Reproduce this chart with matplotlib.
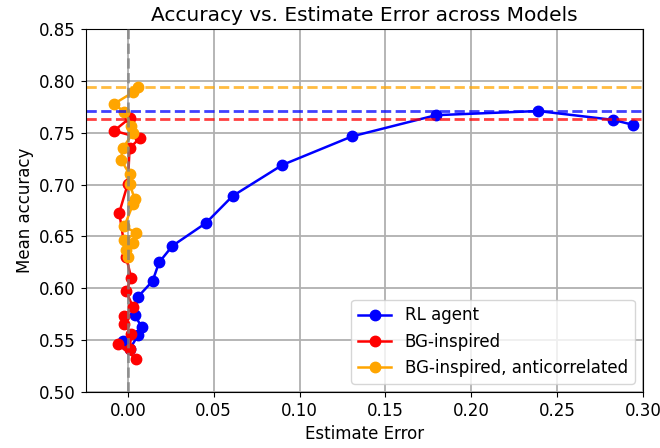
import numpy as np
import matplotlib
matplotlib.use('Agg')
import matplotlib.pyplot as plt

# Dados (erro de estimativa, acurácia média)
rl_err = [-0.003, 0.001, 0.006, 0.008, 0.004, 0.006, 0.0144, 0.0182, 0.026, 0.0455,
          0.061, 0.090, 0.1305, 0.1795, 0.239, 0.2826, 0.2943]
rl_acc = [0.549, 0.541, 0.555, 0.563, 0.574, 0.592, 0.607, 0.625, 0.641, 0.663,
          0.689, 0.719, 0.7465, 0.767, 0.771, 0.7625, 0.7577]

bg_err = [0.005, -0.006, 0.001, 0.002, -0.002, -0.002, 0.003, -0.001, 0.002, -0.001,
          -0.005, 0.0, 0.001, 0.007, -0.008, 0.001]
bg_acc = [0.532, 0.546, 0.541, 0.556, 0.566, 0.573, 0.582, 0.597, 0.610, 0.630,
          0.673, 0.701, 0.735, 0.745, 0.752, 0.764]

anti_err = [0.006, 0.003, -0.008, -0.002, 0.002, 0.003, -0.003, -0.004, 0.001, 0.001,
            0.004, 0.003, -0.002, 0.005, -0.002, 0.003, -0.001, 0.0]
anti_acc = [0.794, 0.789, 0.778, 0.770, 0.757, 0.750, 0.735, 0.724, 0.710, 0.701,
            0.686, 0.681, 0.660, 0.653, 0.647, 0.644, 0.637, 0.630]

# Acurácia de referência de cada modelo (linhas tracejadas)
rl_ref = 0.7712
bg_ref = 0.7635
anti_ref = 0.7945

plt.rcParams['font.size'] = 12

fig = plt.figure(figsize=(6.6, 4.48), dpi=100)
ax = fig.add_axes([0.130, 0.125, 0.844, 0.810])

ax.plot(rl_err, rl_acc, 'o-', color='blue', markersize=7.5, linewidth=1.8, label='RL agent')
ax.plot(bg_err, bg_acc, 'o-', color='red', markersize=7.5, linewidth=1.8, label='BG-inspired')
ax.plot(anti_err, anti_acc, 'o-', color='orange', markersize=7.5, linewidth=1.8,
        label='BG-inspired, anticorrelated')

ax.axhline(rl_ref, color='blue', linestyle='--', linewidth=2, alpha=0.75)
ax.axhline(bg_ref, color='red', linestyle='--', linewidth=2, alpha=0.75)
ax.axhline(anti_ref, color='orange', linestyle='--', linewidth=2, alpha=0.75)
ax.axvline(0, color='gray', linestyle='--', linewidth=2, alpha=0.75, zorder=5)

ax.set_xlim(-0.0245, 0.30)
ax.set_ylim(0.50, 0.85)
ax.set_xlabel('Estimate Error')
ax.set_ylabel('Mean accuracy')
ax.set_title('Accuracy vs. Estimate Error across Models', fontsize=14.5)
ax.grid(True, linewidth=1.3)
ax.legend(loc='lower right')

fig.savefig('out.png', dpi=100)
